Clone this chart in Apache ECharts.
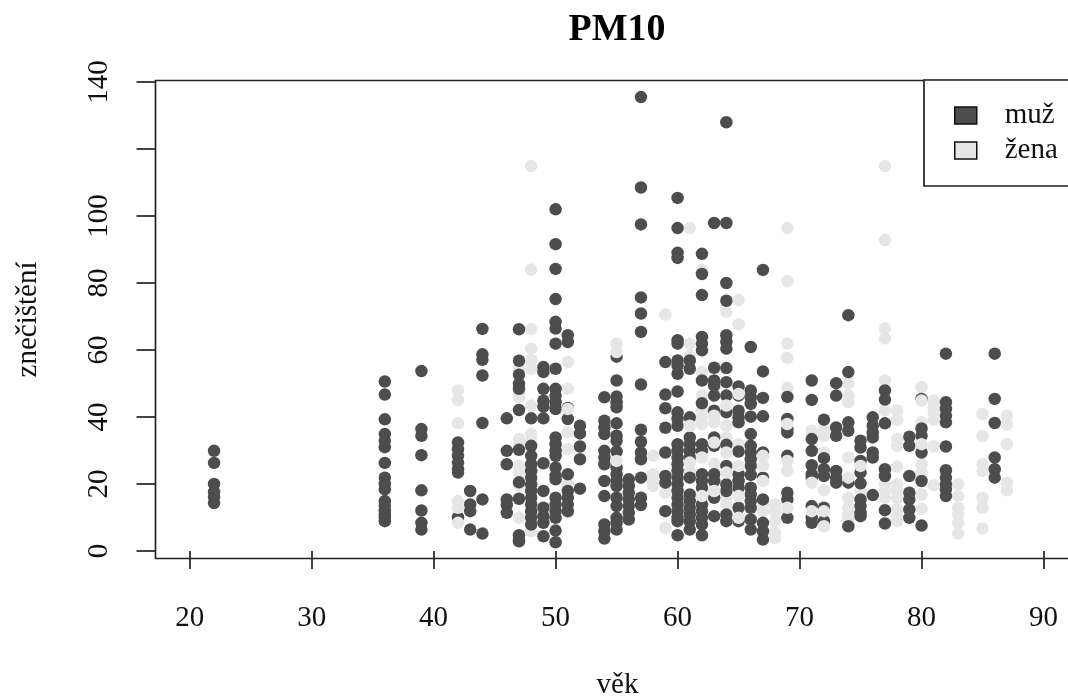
<!DOCTYPE html>
<html><head><meta charset="utf-8">
<style>html,body{margin:0;padding:0;background:#fff;overflow:hidden}#c{width:1068px;height:697px}</style>
<script src="https://cdn.jsdelivr.net/npm/echarts@6/dist/echarts.min.js"></script>
</head><body><div id="c"></div>
<script>
const titleText = "PM10";
const xName = "věk";
const yName = "znečištění";
const legendNames = ["muž", "žena"];
const xTicks = [20,30,40,50,60,70,80,90];
const yTicks = [0,20,40,60,80,100,120,140];
const yTickLabels = [0,20,40,60,80,100,140];

// věk -> hodnoty znečištění
const muz = {
 22:[29.9,26.3,20,17.6,16.1,14.3],
 36:[50.6,46.7,39.3,34.9,32.9,31,26.3,21.9,20,18.4,14.9,13.5,12,10.9,9.9,8.9],
 39:[53.7,36.4,34.4,28.6,18.1,12.1,8.4,6.4],
 42:[32.4,30.4,28.4,26.4,24.4,23.4,10.1],
 43:[17.9,13.9,11.9,6.4],
 44:[66.3,58.7,57.1,52.4,38.2,15.4,5.2],
 46:[39.6,29.9,25.9,15.4,13.7,11.4],
 47:[66.2,56.8,52.6,49.9,48.4,42.1,30.2,20.5,15.6,4.7,3.4,2.9],
 48:[39.6,31.4,28.4,25.9,23.9,21.9,19.9,17.9,15.9,13.9,11.9,9.9,7.9],
 49:[54.9,53.4,48.4,44.9,43.1,39.6,26.2,17.9,12.9,10.4,8.4,4.4],
 50:[102,91.6,84.2,75.2,68.4,66.4,61.9,54.4,48.4,46.4,44.4,42.4,33.9,31.9,29.9,28.4,24.9,22.4,21.4,15.9,13.9,11.9,9.9,6.1,2.6],
 51:[64.4,62.4,42.7,39.4,22.9,17.9,15.9,13.9,11.9],
 52:[37.4,35.1,31.2,27.4,18.6],
 54:[45.9,38.9,36.9,34.9,29.9,27.9,25.9,20.9,16.4,7.9,5.9,3.7],
 55:[58,50.9,46.1,44.4,42.9,38.1,34.4,32.9,29.7,24.9,22.9,20.9,19.4,15.9,13.4,9.9,8.4,6.4],
 56:[21.4,19.4,17.4,15.4,13.4,11.4,9.4],
 57:[135.5,108.5,97.5,75.7,70.9,65.4,49.7,36.2,32.6,29.4,27.4,21.9,15.9,13.7],
 59:[56.4,46.7,42.6,36.8,29.4,22.4,20.4,11.9],
 60:[105.4,96.4,89,87.5,62.9,61.9,56.9,55.4,52.9,47.6,41.4,39.4,37.4,31.9,29.9,27.9,25.9,23.9,21.9,19.9,17.9,15.9,13.9,11.9,9.9,8.9,4.7],
 61:[56.9,54.4,39.9,33.9,31.9,29.9,27.9,21.9,16.9,14.9,12.9,10.9,8.9,6.4],
 62:[88.7,82.7,76.4,63.9,61.9,59.9,50.9,44.1,31.9,29.9,22.9,20.9,18.9,13.9,11.9,9.9,7.9,4.7],
 63:[97.9,54.7,50.9,49.4,46.4,41.9,33.9,31.4,22.9,20.9,15.9,10.4],
 64:[128,97.9,80,74.7,64.4,62.4,60.4,54.6,50.4,46.4,41.4,31.7,25.4,19.9,17.9,10.9,8.9],
 65:[49.1,46.4,41.9,39.9,38.4,29.7,22.9,20.9,18.9,12.9,8.9],
 66:[60.9,47.9,45.9,43.9,40.1,34.9,31.4,29.4,27.4,25.4,22.7,18.9,16.9,14.9,12.9,9.4,6.4],
 67:[83.9,53.6,45.7,40.2,29.4,21.9,15.4,8.4,5.9,3.4],
 69:[46,39.4,36.4,35.4,28.4,17.4,15.4,9.9],
 71:[50.9,45.1,33.4,29.9,25.6,22.9,21.9,13.4,9.9,8.4],
 72:[39.2,27.7,24.4,22.4,12.9,8.9],
 73:[50.1,46.4,36.9,34.4,23.9,21.9,20.4],
 74:[70.4,53.4,38.4,35.9,20.4,7.4],
 75:[32.9,30.9,26.9,23.4,20.2,15.4,13.4,11.4,10.4],
 76:[39.9,37.4,35.4,33.9,29.4,27.9,16.7],
 77:[47.9,45.2,38.1,24.4,22.4,12.2,8.2],
 79:[34.1,31.4,22.4,17.4,15.4,12.4,9.9],
 80:[45.4,36.6,34.4,29.4,20.9,7.6],
 82:[58.9,44.4,42.4,40.4,38.4,31.2,24.1,21.9,19.9,18.4,16.4],
 86:[58.9,45.4,38.2,27.9,24.4,21.9]
};
// žena, kreslené pod muži
const zenaZadni = {
 42:[47.9,45.1,38.1,14.9],
 47:[54.4,46.9,45.9,33.4,31.9,25.4,23.4,19.4,9.9],
 48:[114.9,84,66.3,60.4,57.1,54.4,43.4,34.9,32.9,5.9],
 51:[56.4,48.4,35.4,30.4,19.9,11.4],
 55:[61.9],
 58:[28.4,22.9,20.9,19.4],
 59:[70.6,17.4,6.9],
 61:[96.4,61.9,58.4,23.9],
 62:[83.9,53.4,46.4,41.9,39.9,37.9],
 63:[38.4,26.1],
 64:[71.4,37.4,33.9,15.9,13.9],
 65:[74.9,67.7,31.9],
 67:[11.9,13.9],
 68:[13.9,11.9,8.9,5.4,3.9],
 69:[96.4,80.6,61.9,57.7,48.7,23.9],
 71:[35.9],
 72:[36.4,34.4,29.4,18.1],
 74:[50.1,46.4,44.4,27.9,15.9,12.9,10.9,9.4],
 75:[17.9],
 77:[114.9,92.8,66.4,63.4,50.9,41.9,19.9,17.9,15.9],
 78:[41.9,39.1,33.4,31.4,25.2,19.9,17.9,15.9,12.4,10.4,8.9],
 80:[48.9,38.4,25.9,23.4,16.9,12.6],
 81:[44.9,42.9,41.4,39.2,31.2,19.6],
 83:[19.9,16.4,12.9,10.9,8.4,5.2],
 85:[40.9,34.3,25.9,23.9,15.9,12.9,6.7],
 87:[40.4,37.7,31.9,20.4,18.1]
};
// žena, kreslené přes muže
const zenaPredni = {
 42:[12.9,8.4],
 51:[42.4],
 55:[59.4,26.9],
 61:[37.4,26.4],
 62:[27.9,16.4],
 63:[40.4,32.4,17.9],
 64:[43.4,29.4,23.4],
 65:[46.9,25.4,16.4,9.9],
 67:[28.4,25.4,20.9],
 69:[37.9,26.9,12.9],
 71:[20.4,11.9],
 72:[11.9,7.4],
 74:[21.9],
 75:[25.4],
 80:[44.9,31.9]
};

const points = g => Object.keys(g).flatMap(a => g[a].map(v => [Number(a), v]));
const DARK = "#4d4d4d", LIGHT = "#e6e6e6", INK = "#111", FONT = "'Liberation Serif', serif";
const sym = 12.5;
const chart = echarts.init(document.getElementById("c"), null, {renderer:"canvas"});
chart.setOption({
  animation:false,
  backgroundColor:"#fff",
  title:{text:titleText,left:612,top:6,textAlign:"center",textStyle:{fontFamily:FONT,fontSize:38,fontWeight:"bold",color:"#000"}},
  grid:{left:155.5,top:80.5,width:924,height:478,outerBoundsMode:"none",show:true,backgroundColor:"transparent",borderColor:"#222",borderWidth:1.7},
  legend:{
    data:legendNames,left:924,top:80,orient:"vertical",
    padding:[21,60,21,30],itemWidth:22,itemHeight:17,itemGap:6,icon:"rect",
    backgroundColor:"#fff",borderColor:"#222",borderWidth:1.7,borderRadius:0,
    itemStyle:{borderColor:"#111",borderWidth:1.5},
    textStyle:{fontFamily:FONT,fontSize:29,color:INK,padding:[0,0,0,23]}
  },
  xAxis:{
    type:"value",min:17.2,max:92.95,name:xName,nameLocation:"middle",nameGap:112,
    nameTextStyle:{fontFamily:FONT,fontSize:29,color:INK},
    splitLine:{show:false},axisLine:{show:false},
    axisTick:{show:true,customValues:xTicks,length:18,lineStyle:{color:"#222",width:1.7}},
    axisLabel:{customValues:xTicks,margin:45,fontFamily:FONT,fontSize:29,color:INK,showMinLabel:true,showMaxLabel:true}
  },
  yAxis:{
    type:"value",min:-2.24,max:140.45,name:yName,nameLocation:"middle",nameGap:113,
    nameTextStyle:{fontFamily:FONT,fontSize:29,color:INK},
    splitLine:{show:false},axisLine:{show:false},
    axisTick:{show:true,customValues:yTicks,length:19,lineStyle:{color:"#222",width:1.7}},
    axisLabel:{customValues:yTickLabels,rotate:90,margin:42,fontFamily:FONT,fontSize:29,color:INK,showMinLabel:true,showMaxLabel:true}
  },
  series:[
    {name:legendNames[1],type:"scatter",z:2,symbolSize:sym,itemStyle:{color:LIGHT,opacity:1},data:points(zenaZadni)},
    {name:legendNames[0],type:"scatter",z:3,symbolSize:sym,itemStyle:{color:DARK,opacity:1},data:points(muz)},
    {name:legendNames[1],type:"scatter",z:4,symbolSize:sym,itemStyle:{color:LIGHT,opacity:1},data:points(zenaPredni)}
  ]
});
</script></body></html>
